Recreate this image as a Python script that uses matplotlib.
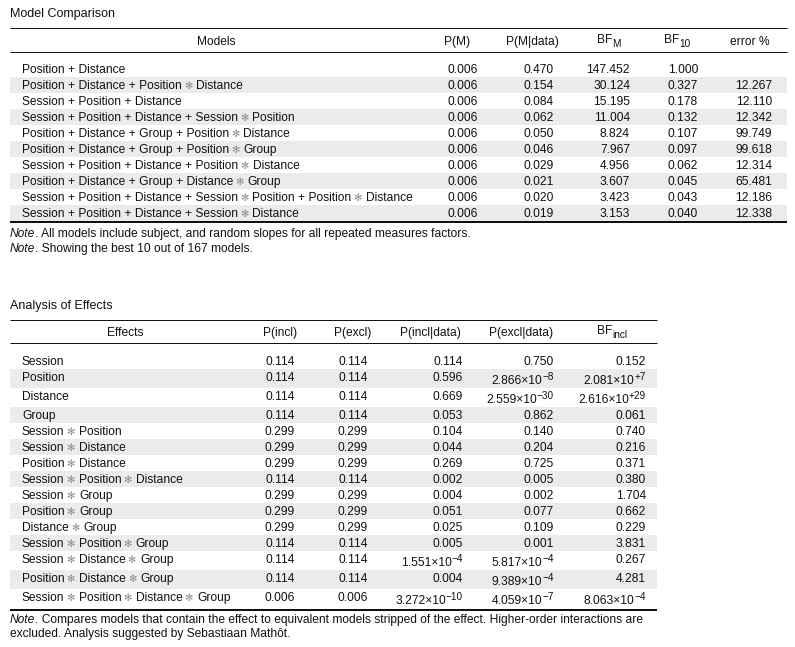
import math
import matplotlib
matplotlib.use("Agg")
import matplotlib.pyplot as plt
from matplotlib.patches import Rectangle

plt.rcParams['font.family'] = ['Liberation Sans', 'DejaVu Sans']

X = '\u273b'  # interaction sign

# ---- Model comparison table
models = [
    "Position + Distance",
    f"Position + Distance + Position{X}Distance",
    "Session + Position + Distance",
    f"Session + Position + Distance + Session{X}Position",
    f"Position + Distance + Group + Position{X}Distance",
    f"Position + Distance + Group + Position{X}Group",
    f"Session + Position + Distance + Position{X}Distance",
    f"Position + Distance + Group + Distance{X}Group",
    f"Session + Position + Distance + Session{X}Position + Position{X}Distance",
    f"Session + Position + Distance + Session{X}Distance",
]
p_m = [0.006, 0.006, 0.006, 0.006, 0.006, 0.006, 0.006, 0.006, 0.006, 0.006]
p_m_data = [0.470, 0.154, 0.084, 0.062, 0.050, 0.046, 0.029, 0.021, 0.020, 0.019]
bf_m = [147.452, 30.124, 15.195, 11.004, 8.824, 7.967, 4.956, 3.607, 3.423, 3.153]
bf_10 = [1.000, 0.327, 0.178, 0.132, 0.107, 0.097, 0.062, 0.045, 0.043, 0.040]
error_pct = [None, 12.267, 12.110, 12.342, 99.749, 99.618, 12.314, 65.481, 12.186, 12.338]

# ---- Analysis of effects table
effects = [
    "Session", "Position", "Distance", "Group",
    f"Session{X}Position", f"Session{X}Distance", f"Position{X}Distance",
    f"Session{X}Position{X}Distance", f"Session{X}Group", f"Position{X}Group",
    f"Distance{X}Group", f"Session{X}Position{X}Group", f"Session{X}Distance{X}Group",
    f"Position{X}Distance{X}Group", f"Session{X}Position{X}Distance{X}Group",
]
p_incl = [0.114, 0.114, 0.114, 0.114, 0.299, 0.299, 0.299, 0.114, 0.299, 0.299, 0.299, 0.114, 0.114, 0.114, 0.006]
p_excl = [0.114, 0.114, 0.114, 0.114, 0.299, 0.299, 0.299, 0.114, 0.299, 0.299, 0.299, 0.114, 0.114, 0.114, 0.006]
p_incl_data = [0.114, 0.596, 0.669, 0.053, 0.104, 0.044, 0.269, 0.002, 0.004, 0.051, 0.025, 0.005, 1.551e-4, 0.004, 3.272e-10]
p_excl_data = [0.750, 2.866e-8, 2.559e-30, 0.862, 0.140, 0.204, 0.725, 0.005, 0.002, 0.077, 0.109, 0.001, 5.817e-4, 9.389e-4, 4.059e-7]
bf_incl = [0.152, 2.081e7, 2.616e29, 0.061, 0.740, 0.216, 0.371, 0.380, 1.704, 0.662, 0.229, 3.831, 0.267, 4.281, 8.063e-4]

INK = '#111111'
SHADE = '#ebebeb'
FS = 8.64
SMALL = 7.2


def is_sci(v):
    return v is not None and (v < 0.001 or v >= 1e5)


def split_sci(v):
    e = math.floor(math.log10(v))
    m = v / 10 ** e
    if round(m, 3) >= 10:
        m, e = m / 10, e + 1
    exp = f"+{e}" if e > 0 else f"\u2212{-e}"
    return f"{m:.3f}×10", exp


fig = plt.figure(figsize=(7.95, 6.47), dpi=100)
ax = fig.add_axes([0, 0, 1, 1])
ax.set_xlim(0, 795)
ax.set_ylim(647, 0)
ax.axis('off')
renderer = fig.canvas.get_renderer()


def txt(x, y, s, ha='left', size=FS, color=INK, **kw):
    return ax.text(x, y, s, ha=ha, va='baseline', fontsize=size, color=color, **kw)


def width(t):
    return t.get_window_extent(renderer).width


def label(x, y, name):
    # model / effect name, interaction sign drawn lighter
    pieces = name.split(X)
    for k, p in enumerate(pieces):
        x += width(txt(x, y, p))
        if k < len(pieces) - 1:
            x += 2
            x += width(txt(x, y, X, size=7.2, color='#8a8a8a', family='DejaVu Sans'))
            x += 4


def value(xr, y, v):
    if v is None:
        return
    if not is_sci(v):
        txt(xr, y, f"{v:.3f}", ha='right')
        return
    base, exp = split_sci(v)
    w = width(txt(xr, y - 4, exp, ha='right', size=SMALL))
    txt(xr - w, y, base, ha='right')


def header(xc, y, base, sub=None):
    if sub is None:
        txt(xc, y, base, ha='center')
        return
    t = txt(0, y, base)
    s = txt(0, y + 4, sub, size=SMALL)
    wb, ws = width(t), width(s)
    t.set_x(xc - (wb + ws) / 2)
    s.set_x(xc - (wb + ws) / 2 + wb)


def note(x, y, rest):
    x += width(txt(x, y, "Note", fontstyle='italic'))
    txt(x, y, ". " + rest)


def hline(x0, x1, y, px):
    ax.plot([x0, x1], [y, y], color=INK, lw=px * 0.72, solid_capstyle='butt')


# ---------------- Model Comparison ----------------
L, R = 10, 787
txt(10, 17, "Model Comparison", size=9.0)
hline(L, R, 27.5, 1)
header(216, 45, "Models")
header(457, 45, "P(M)")
header(532, 45, "P(M|data)")
header(609, 43, "BF", "M")
header(677, 43, "BF", "10")
header(750, 45, "error %")
hline(L, R, 51.5, 1)

cols1 = [(478, p_m), (554, p_m_data), (630, bf_m), (698, bf_10), (772, error_pct)]
top = 61
for i, name in enumerate(models):
    if i % 2 == 1:
        ax.add_patch(Rectangle((L, top), R - L, 16, color=SHADE, lw=0))
    label(22, top + 12, name)
    for cx, vals in cols1:
        value(cx, top + 12, vals[i])
    top += 16
hline(L, R, top + 1, 2)
note(10, 237, "All models include subject, and random slopes for all repeated measures factors.")
note(10, 252, "Showing the best 10 out of 167 models.")

# ---------------- Analysis of Effects ----------------
L2, R2 = 10, 657
txt(10, 309, "Analysis of Effects", size=9.0)
hline(L2, R2, 319.5, 1)
header(125, 336, "Effects")
header(280, 336, "P(incl)")
header(353, 336, "P(excl)")
header(430, 336, "P(incl|data)")
header(521, 336, "P(excl|data)")
header(612, 334, "BF", "incl")
hline(L2, R2, 342.5, 1)

cols2 = [(295, p_incl), (368, p_excl), (463, p_incl_data), (554, p_excl_data), (646, bf_incl)]
top = 353
for i, name in enumerate(effects):
    tall = any(is_sci(vals[i]) for _, vals in cols2)
    h = 19 if tall else 16
    if i % 2 == 1:
        ax.add_patch(Rectangle((L2, top), R2 - L2, h, color=SHADE, lw=0))
    label(22, top + 12, name)
    for cx, vals in cols2:
        v = vals[i]
        value(cx, top + (15 if is_sci(v) else 12), v)
    top += h
hline(L2, R2, top + 2, 2)
note(10, 623, "Compares models that contain the effect to equivalent models stripped of the effect. "
              "Higher-order interactions are")
txt(10, 637, "excluded. Analysis suggested by Sebastiaan Mathôt.")

fig.savefig("out.png", dpi=100)
